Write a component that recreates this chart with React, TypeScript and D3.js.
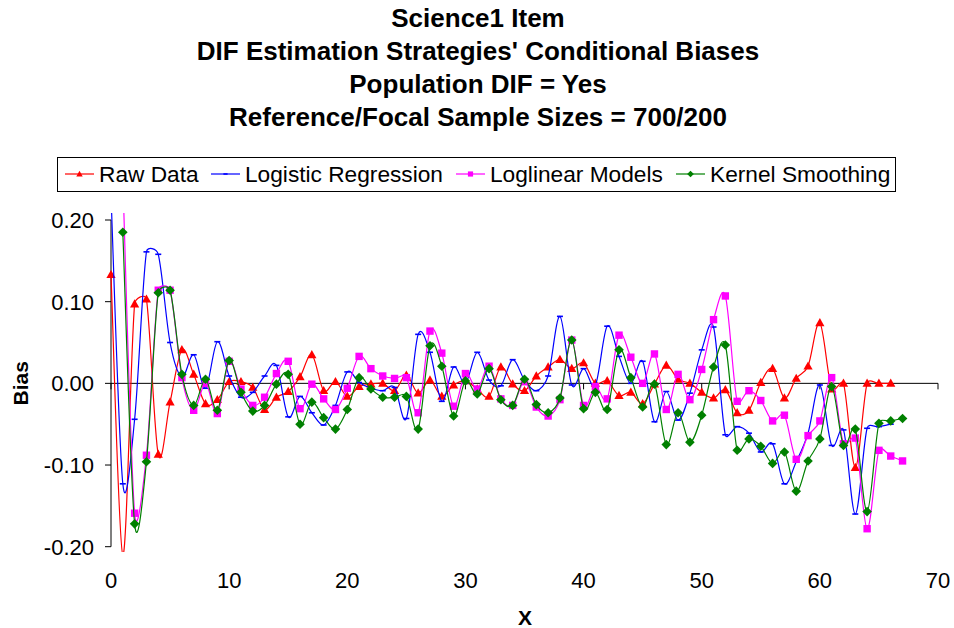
import React from "react";
import * as d3 from "d3";

// Title lines
const titleLines = [
  "Science1 Item",
  "DIF Estimation Strategies' Conditional Biases",
  "Population DIF = Yes",
  "Reference/Focal Sample Sizes = 700/200",
];

// Raw Data, x = 0..66
const rawX = d3.range(0, 67);
const rawData = [
  0.133, -0.21, 0.097, 0.103, -0.087, -0.023, 0.041, 0.011, -0.025, -0.02,
  0.002, 0.002, -0.005, -0.032, -0.017, -0.01, 0.008, 0.035, -0.009, 0.002,
  -0.016, -0.004, -0.001, 0.0, -0.009, 0.01, -0.012, 0.004, -0.016, -0.002,
  0.003, -0.007, -0.016, 0.02, -0.001, -0.009, 0.009, 0.02, 0.029, 0.018,
  0.025, 0.0, 0.003, -0.015, -0.011, -0.025, -0.001, 0.022, 0.005, 0.0,
  -0.011, -0.018, -0.008, -0.036, -0.033, 0.001, 0.018, -0.018, 0.006, 0.021,
  0.074, -0.007, 0.0, -0.103, 0.0, 0.0, 0.0,
];

// Logistic Regression, x = 0..66
const logisticX = d3.range(0, 67);
const logisticData = [
  0.23, -0.123, -0.044, 0.161, 0.158, 0.05, 0.008, 0.035, -0.006, 0.051,
  0.009, -0.017, -0.011, 0.009, 0.022, -0.041, -0.016, -0.036, -0.051, -0.027,
  0.014, 0.001, -0.006, -0.009, -0.005, -0.043, 0.06, 0.038, -0.022, 0.02,
  0.0, 0.038, 0.004, -0.003, 0.029, 0.004, -0.009, 0.009, 0.082, -0.002,
  0.018, -0.002, 0.07, 0.033, 0.0, 0.027, -0.047, -0.01, -0.045, -0.012,
  0.041, 0.069, -0.063, -0.053, -0.061, -0.084, -0.074, -0.123, -0.096, -0.061,
  -0.002, -0.076, -0.057, -0.16, -0.055, -0.053, -0.05,
];

// Loglinear Models, x = 1..67
const loglinearX = d3.range(1, 68);
const loglinearData = [
  0.25, -0.159, -0.088, 0.114, 0.114, 0.007, -0.033, 0.0, -0.037, 0.027,
  -0.007, -0.027, -0.017, 0.012, 0.027, -0.031, -0.001, -0.019, -0.032, -0.006,
  0.033, 0.018, 0.009, 0.006, 0.007, -0.036, 0.064, 0.037, -0.028, 0.012,
  -0.007, 0.021, -0.019, -0.027, 0.002, -0.029, -0.04, -0.02, 0.053, -0.027,
  -0.004, -0.019, 0.059, 0.032, 0.0, 0.036, -0.032, 0.011, -0.02, 0.017,
  0.078, 0.107, -0.022, -0.009, -0.021, -0.046, -0.039, -0.093, -0.064, -0.046,
  0.007, -0.074, -0.067, -0.178, -0.082, -0.089, -0.095,
];

// Kernel Smoothing, x = 1..67
const kernelX = d3.range(1, 68);
const kernelData = [
  0.185, -0.172, -0.096, 0.111, 0.114, 0.011, -0.027, 0.005, -0.033, 0.028,
  -0.011, -0.034, -0.027, -0.001, 0.011, -0.05, -0.023, -0.042, -0.056, -0.032,
  0.007, -0.007, -0.017, -0.017, -0.016, -0.056, 0.046, 0.021, -0.04, 0.003,
  -0.013, 0.018, -0.02, -0.027, 0.005, -0.026, -0.036, -0.018, 0.053, -0.031,
  -0.011, -0.032, 0.041, 0.007, -0.029, -0.001, -0.075, -0.036, -0.072, -0.039,
  0.02, 0.047, -0.082, -0.068, -0.077, -0.098, -0.084, -0.132, -0.095, -0.068,
  -0.004, -0.076, -0.056, -0.157, -0.049, -0.046, -0.043,
];

const xTicks = [0, 10, 20, 30, 40, 50, 60, 70];
const yTicks = [-0.2, -0.1, 0.0, 0.1, 0.2];

type Marker = "triangle" | "dash" | "square" | "diamond";

const seriesList: { name: string; xs: number[]; ys: number[]; color: string; marker: Marker }[] = [
  { name: "Raw Data", xs: rawX, ys: rawData, color: "#FF0000", marker: "triangle" },
  { name: "Logistic Regression", xs: logisticX, ys: logisticData, color: "#0000FF", marker: "dash" },
  { name: "Loglinear Models", xs: loglinearX, ys: loglinearData, color: "#FF00FF", marker: "square" },
  { name: "Kernel Smoothing", xs: kernelX, ys: kernelData, color: "#008000", marker: "diamond" },
];

const FONT = "'Liberation Sans', Arial, sans-serif";

// Smoothed curve: Catmull-Rom style Bezier tangents, with each control
// handle limited to a fraction of its segment length to tame overshoot.
function smoothCurve(context: any) {
  let pts: [number, number][] = [];
  const K = 0.5;
  const clamp = (t: [number, number], lim: number): [number, number] => {
    const len = Math.hypot(t[0], t[1]);
    if (len > lim && len > 0) return [(t[0] * lim) / len, (t[1] * lim) / len];
    return t;
  };
  return {
    areaStart() {},
    areaEnd() {},
    lineStart() {
      pts = [];
    },
    point(x: number, y: number) {
      pts.push([+x, +y]);
    },
    lineEnd() {
      const n = pts.length;
      if (!n) return;
      context.moveTo(pts[0][0], pts[0][1]);
      if (n === 1) return;
      const tangent = (i: number): [number, number] => {
        const a = pts[Math.max(0, i - 1)];
        const b = pts[Math.min(n - 1, i + 1)];
        return [(b[0] - a[0]) / 6, (b[1] - a[1]) / 6];
      };
      for (let i = 0; i < n - 1; i++) {
        const p1 = pts[i];
        const p2 = pts[i + 1];
        const lim = Math.hypot(p2[0] - p1[0], p2[1] - p1[1]) * K;
        const t1 = clamp(tangent(i), lim);
        const t2 = clamp(tangent(i + 1), lim);
        context.bezierCurveTo(p1[0] + t1[0], p1[1] + t1[1], p2[0] - t2[0], p2[1] - t2[1], p2[0], p2[1]);
      }
    },
  };
}

function MarkerShape({ type, color, s = 1 }: { type: Marker; color: string; s?: number }) {
  if (type === "triangle") {
    return <polygon points={`0,${-4.8 * s} ${4.6 * s},${3.4 * s} ${-4.6 * s},${3.4 * s}`} fill={color} />;
  }
  if (type === "square") {
    return <rect x={-3.7 * s} y={-3.7 * s} width={7.4 * s} height={7.4 * s} fill={color} />;
  }
  if (type === "diamond") {
    return <polygon points={`0,${-4.8 * s} ${4.8 * s},0 0,${4.8 * s} ${-4.8 * s},0`} fill={color} />;
  }
  return <line x1={-3 * s} x2={3 * s} y1={0} y2={0} stroke={color} strokeWidth={1.6} />;
}

export default function App() {
  const x = d3.scaleLinear().domain([0, 70]).range([111, 938]);
  const y = d3.scaleLinear().domain([-0.2, 0.2]).range([546.7, 220]);

  const line = d3
    .line<[number, number]>()
    .x((d) => x(d[0]))
    .y((d) => y(d[1]))
    .curve(smoothCurve as any);

  const fmt = (v: number) => v.toFixed(2);
  const y0 = y(0);

  const legendItems = [
    { lx: 65, tx: 99 },
    { lx: 211, tx: 245 },
    { lx: 456, tx: 490 },
    { lx: 676, tx: 710 },
  ];

  return (
    <svg
      width={954}
      height={628}
      style={{ position: "absolute", left: 0, top: 0, background: "#fff" }}
      fontFamily={FONT}
    >
      <defs>
        <clipPath id="plotClip">
          <rect x={106} y={213} width={840} height={339} />
        </clipPath>
      </defs>
      <rect x={0} y={0} width={954} height={628} fill="#fff" />

      {titleLines.map((t, i) => (
        <text key={t} x={478} y={27 + i * 33} textAnchor="middle" fontSize={26} fontWeight="bold" fill="#000">
          {t}
        </text>
      ))}

      {/* legend */}
      <rect x={57.5} y={157.5} width={838} height={34} fill="#fff" stroke="#000" strokeWidth={1} />
      {seriesList.map((s, i) => (
        <g key={s.name}>
          <line x1={legendItems[i].lx} x2={legendItems[i].lx + 29} y1={174} y2={174} stroke={s.color} strokeWidth={1.2} />
          <g transform={`translate(${legendItems[i].lx + 14.5},174)`}>
            <MarkerShape type={s.marker} color={s.color} s={0.7} />
          </g>
          <text x={legendItems[i].tx} y={182} fontSize={22.7} fill="#000">
            {s.name}
          </text>
        </g>
      ))}

      {/* y axis */}
      <line x1={111} x2={111} y1={y(0.2)} y2={y(-0.2)} stroke="#000" strokeWidth={1} />
      {yTicks.map((t) => (
        <g key={t}>
          <line x1={105} x2={111} y1={y(t)} y2={y(t)} stroke="#000" strokeWidth={1} />
          <text x={94} y={y(t) + 8} textAnchor="end" fontSize={22} fill="#000">
            {fmt(t)}
          </text>
        </g>
      ))}

      {/* x axis at zero */}
      <line x1={x(0)} x2={x(70)} y1={y0} y2={y0} stroke="#000" strokeWidth={1} />
      {xTicks.map((t) => (
        <g key={t}>
          <line x1={x(t)} x2={x(t)} y1={y0} y2={y0 + 6} stroke="#000" strokeWidth={1} />
          <text x={x(t)} y={588} textAnchor="middle" fontSize={22} fill="#000">
            {t}
          </text>
        </g>
      ))}

      {/* series */}
      <g clipPath="url(#plotClip)">
        {seriesList.map((s) => {
          const pts = s.xs.map((xv, i) => [xv, s.ys[i]] as [number, number]);
          return (
            <g key={s.name}>
              <path d={line(pts) ?? ""} fill="none" stroke={s.color} strokeWidth={1.2} />
              {pts
                .filter((p) => p[1] >= -0.2 && p[1] <= 0.2)
                .map((p, i) => (
                  <g key={i} transform={`translate(${x(p[0])},${y(p[1])})`}>
                    <MarkerShape type={s.marker} color={s.color} />
                  </g>
                ))}
            </g>
          );
        })}
      </g>

      {/* axis titles */}
      <text x={525} y={625} textAnchor="middle" fontSize={21} fontWeight="bold" fill="#000">
        X
      </text>
      <text
        transform={`translate(28,${y0}) rotate(-90)`}
        textAnchor="middle"
        fontSize={21}
        fontWeight="bold"
        fill="#000"
      >
        Bias
      </text>
    </svg>
  );
}
